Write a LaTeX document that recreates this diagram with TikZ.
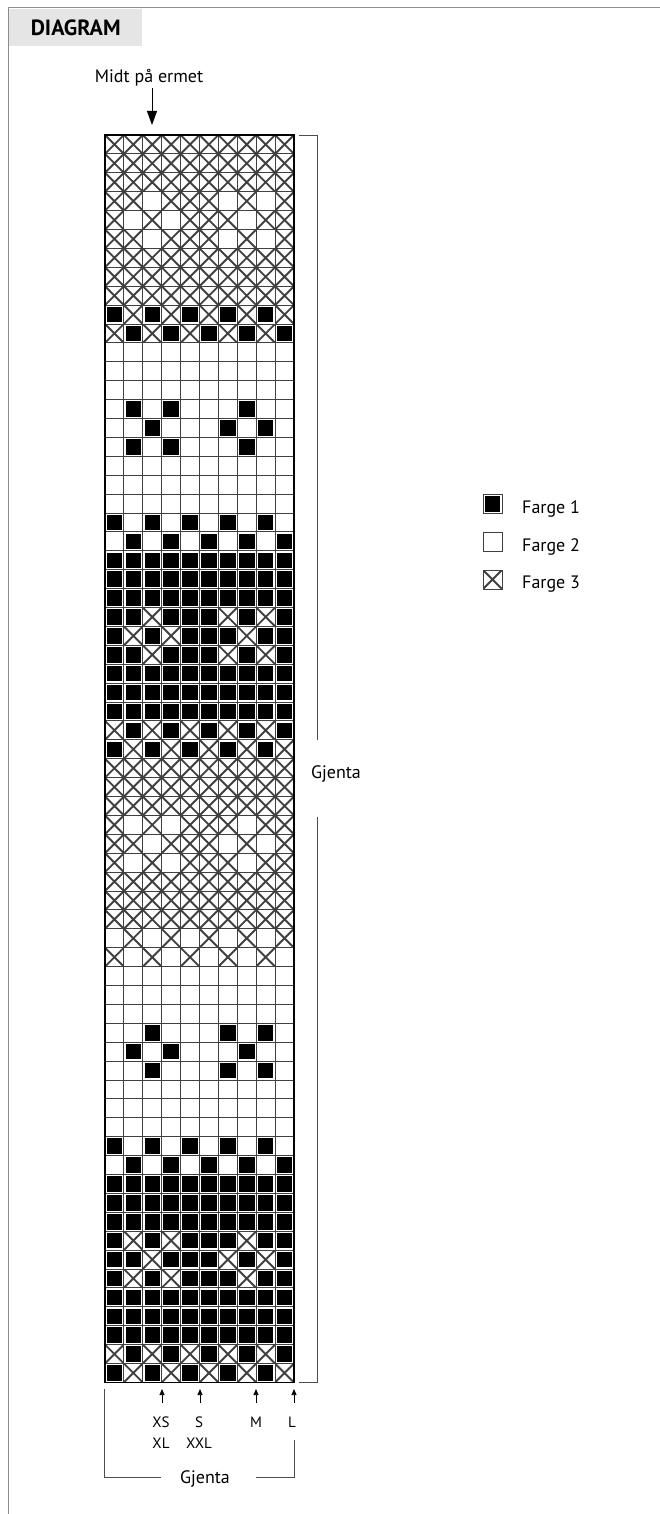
\documentclass[tikz,border=0pt]{standalone}
\usepackage{fontspec}
\setmainfont{PT Sans}
\usepackage{tikz}
\usetikzlibrary{arrows.meta}

% chart rows, top to bottom (1 = Farge 1, 2 = Farge 2, 3 = Farge 3)
\newcommand{\chartrows}{%
{3,3,3,3,3,3,3,3,3,3},{3,3,3,3,3,3,3,3,3,3},{3,3,3,3,3,3,3,3,3,3},%
{3,3,2,3,3,3,2,3,2,3},{3,2,3,2,3,3,3,2,3,3},{3,3,2,3,3,3,2,3,2,3},%
{3,3,3,3,3,3,3,3,3,3},{3,3,3,3,3,3,3,3,3,3},{3,3,3,3,3,3,3,3,3,3},%
{1,3,1,3,1,3,1,3,1,3},{3,1,3,1,3,1,3,1,3,1},%
{2,2,2,2,2,2,2,2,2,2},{2,2,2,2,2,2,2,2,2,2},{2,2,2,2,2,2,2,2,2,2},%
{2,1,2,1,2,2,2,1,2,2},{2,2,1,2,2,2,1,2,1,2},{2,1,2,1,2,2,2,1,2,2},%
{2,2,2,2,2,2,2,2,2,2},{2,2,2,2,2,2,2,2,2,2},{2,2,2,2,2,2,2,2,2,2},%
{1,2,1,2,1,2,1,2,1,2},{2,1,2,1,2,1,2,1,2,1},%
{1,1,1,1,1,1,1,1,1,1},{1,1,1,1,1,1,1,1,1,1},{1,1,1,1,1,1,1,1,1,1},%
{1,1,3,1,1,1,3,1,3,1},{1,3,1,3,1,1,1,3,1,1},{1,1,3,1,1,1,3,1,3,1},%
{1,1,1,1,1,1,1,1,1,1},{1,1,1,1,1,1,1,1,1,1},{1,1,1,1,1,1,1,1,1,1},%
{3,1,3,1,3,1,3,1,3,1},{1,3,1,3,1,3,1,3,1,3},%
{3,3,3,3,3,3,3,3,3,3},{3,3,3,3,3,3,3,3,3,3},{3,3,3,3,3,3,3,3,3,3},%
{3,2,3,2,3,3,3,2,3,3},{3,3,2,3,3,3,2,3,2,3},{3,2,3,2,3,3,3,2,3,3},%
{3,3,3,3,3,3,3,3,3,3},{3,3,3,3,3,3,3,3,3,3},{3,3,3,3,3,3,3,3,3,3},%
{2,3,2,3,2,3,2,3,2,3},{3,2,3,2,3,2,3,2,3,2},%
{2,2,2,2,2,2,2,2,2,2},{2,2,2,2,2,2,2,2,2,2},{2,2,2,2,2,2,2,2,2,2},%
{2,2,1,2,2,2,1,2,1,2},{2,1,2,1,2,2,2,1,2,2},{2,2,1,2,2,2,1,2,1,2},%
{2,2,2,2,2,2,2,2,2,2},{2,2,2,2,2,2,2,2,2,2},{2,2,2,2,2,2,2,2,2,2},%
{1,2,1,2,1,2,1,2,1,2},{2,1,2,1,2,1,2,1,2,1},%
{1,1,1,1,1,1,1,1,1,1},{1,1,1,1,1,1,1,1,1,1},{1,1,1,1,1,1,1,1,1,1},%
{1,3,1,3,1,1,1,3,1,1},{1,1,3,1,1,1,3,1,3,1},{1,3,1,3,1,1,1,3,1,1},%
{1,1,1,1,1,1,1,1,1,1},{1,1,1,1,1,1,1,1,1,1},{1,1,1,1,1,1,1,1,1,1},%
{3,1,3,1,3,1,3,1,3,1},{1,3,1,3,1,3,1,3,1,3}%
}

\begin{document}
\begin{tikzpicture}[
  x=1pt, y={(0pt,-1pt)},
  cell/.style={draw=black!75, line width=0.9pt, minimum size=18.9pt,
               inner sep=0pt, outer sep=0pt},
  farge1/.style={cell, path picture={
      \fill ([shift={(1.7pt,-1.7pt)}]path picture bounding box.north west)
        rectangle ([shift={(-1.7pt,1.7pt)}]path picture bounding box.south east);}},
  farge2/.style={cell},
  farge3/.style={cell, path picture={
      \draw[line width=1.9pt]
        (path picture bounding box.north west) -- (path picture bounding box.south east)
        (path picture bounding box.north east) -- (path picture bounding box.south west);}},
  lbl/.style={font=\fontsize{18}{20}\selectfont, inner sep=1pt},
  size/.style={font=\fontsize{15}{21}\selectfont, inner sep=0pt, align=center, anchor=north},
  pil/.style={-{Triangle[length=14pt, width=10pt]}, line width=0.9pt},
  spil/.style={-{Triangle[length=6pt, width=5pt]}, line width=0.7pt, shorten <=14pt},
  brk/.style={draw=black!70, line width=0.9pt},
  ramme/.style={draw=black!45, line width=1pt}
]
  \useasboundingbox (0,0) rectangle (660,1514);

  %--- Title ---
  \node[fill=black!10, minimum width=133pt, minimum height=37pt, inner sep=0pt,
        font=\fontsize{22}{24}\selectfont\bfseries, anchor=north west] (tittel) at (9,9) {DIAGRAM};
  \draw[ramme] (660,8) -- (8,8) -- (8,1514);

  %--- Chart ---
  \foreach \row [count=\r] in \chartrows {
    \foreach \c [count=\k] in \row
      \node[farge\c] (c-\r-\k) at ({105+18.9*(\k-0.5)}, {135+18.9*(\r-0.5)}) {};
  }
  \draw[line width=1.8pt] (c-1-1.north west) rectangle (c-66-10.south east);

  \node[lbl, anchor=base] (midt) at (149,83) {Midt på ermet};
  \coordinate (midtpil) at (152,125);
  \draw[pil] (midt.south -| midtpil) -- (midtpil);

  %--- Repeat, right side ---
  \draw[brk] (299,135) -- (317,135) -- (317,740);
  \draw[brk] (317,817) -- (317,1382) -- (299,1382);
  \node[lbl, anchor=base] (gjh) at (336,778) {Gjenta};

  %--- Sizes ---
  \node[size] (xs) at (161,1417) {XS\\XL};
  \node[size] (s)  at (199,1417) {S\\XXL};
  \node[size] (m)  at (256,1417) {M};
  \node[size] (l)  at (292,1417) {L};
  \coordinate (xspil) at (162,1389);
  \coordinate (spil) at (200,1389);
  \coordinate (mpil) at (256,1389);
  \coordinate (lpil) at (294,1389);
  \draw[spil] (xs.north -| xspil) -- (xspil);
  \draw[spil] (s.north -| spil) -- (spil);
  \draw[spil] (m.north -| mpil) -- (mpil);
  \draw[spil] (l.north -| lpil) -- (lpil);

  %--- Repeat, bottom ---
  \node[lbl, anchor=base] (gjb) at (205,1483) {Gjenta};
  \draw[brk] (104,1389) -- (104,1477) -- (161,1477);
  \draw[brk] (256,1477) -- (294,1477) -- (294,1440);

  %--- Legend ---
  \node[farge1] (f1) at (492.5,504) {};
  \node[farge2] (f2) at (492.5,541.5) {};
  \node[farge3] (f3) at (492.5,579.5) {};
  \node[lbl, anchor=base west] (f1t) at (521,513) {Farge 1};
  \node[lbl, anchor=base west] (f2t) at (521,551) {Farge 2};
  \node[lbl, anchor=base west] (f3t) at (521,588) {Farge 3};

\end{tikzpicture}
\end{document}
